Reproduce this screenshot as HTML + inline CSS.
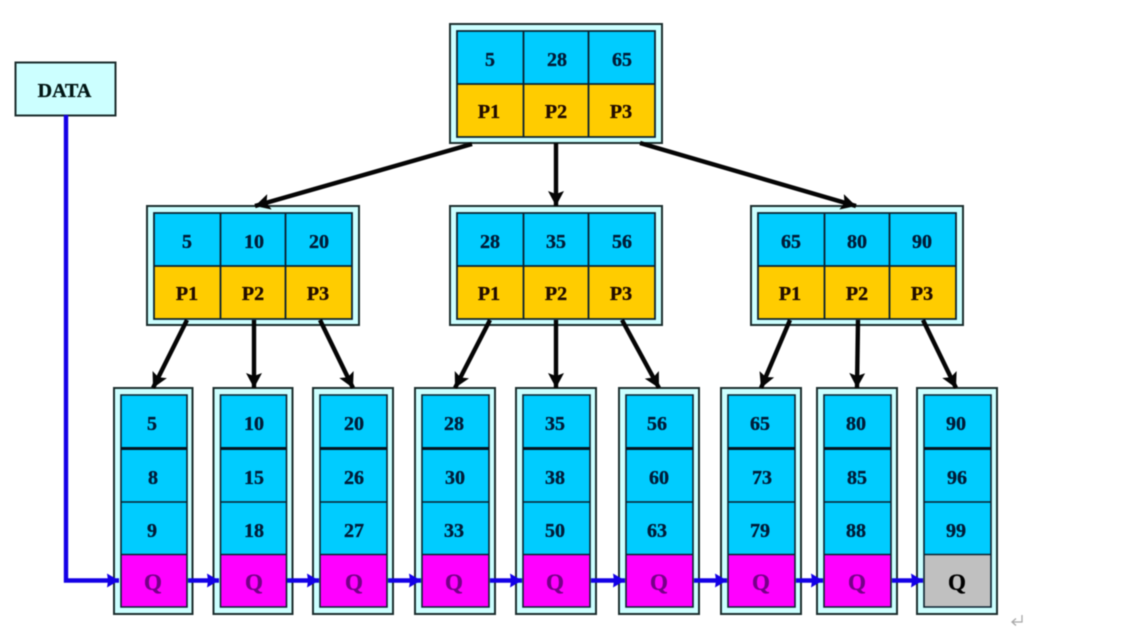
<!DOCTYPE html>
<html lang="en">
<head>
<meta charset="utf-8">
<title>B+ tree diagram</title>
<style>
html,body{margin:0;padding:0;background:#fff;width:1124px;height:630px;overflow:hidden}
svg{display:block}
#d{filter:blur(.45px)}
.o{fill:#ccffff;stroke:#1c2e2e;stroke-width:2}
.i{stroke:#0a2230;stroke-width:1.8}
.b{fill:#00ccff}.y{fill:#ffcc00}.m{fill:#ff00ff}.g{fill:#c0c0c0}
.l{stroke:#0a2230;stroke-width:1.6;fill:none}
.t{stroke:#061420;stroke-width:3;fill:none}
.a{stroke:#050505;stroke-width:4.400;fill:none}
.u{stroke:#1400e6;stroke-width:4.400;fill:none}
text{font-family:"Liberation Serif",serif;font-weight:bold;font-size:20px;text-anchor:middle;stroke-width:.35px}
.tb{fill:#001c38;stroke:#001c38}.ty{fill:#220c00;stroke:#220c00}.tm{fill:#760088;stroke:#760088;font-size:23px}.tg{fill:#000;stroke:#000;font-size:23px}
.td{fill:#021615;stroke:#021615;font-size:20px}
</style>
</head>
<body>
<svg width="1124" height="630" viewBox="0 0 1124 630" xmlns="http://www.w3.org/2000/svg">
<defs>
<marker id="k" markerUnits="userSpaceOnUse" markerWidth="18" markerHeight="18" refX="15" refY="8" orient="auto"><path d="M0 0L15 8L0 16L3 8Z" fill="#050505"/></marker>
<marker id="n" markerUnits="userSpaceOnUse" markerWidth="16" markerHeight="16" refX="12" refY="7" orient="auto"><path d="M0 0L12 7L0 14L1 7Z" fill="#1400e6"/></marker>
</defs>
<g id="d">
<!-- DATA -->
<rect class="o" x="15.500" y="62.500" width="100" height="53"/>
<text class="td" x="64.500" y="97">DATA</text>

<!-- Internal nodes -->
<rect class="o" x="450" y="24" width="212" height="119"/>
<rect class="b" x="457" y="31" width="198" height="53"/><rect class="y" x="457" y="84" width="198" height="53"/>
<rect class="o" x="147" y="206" width="212" height="119"/>
<rect class="b" x="154" y="213" width="198" height="53"/><rect class="y" x="154" y="266" width="198" height="53"/>
<rect class="o" x="450" y="206" width="212" height="119"/>
<rect class="b" x="457" y="213" width="198" height="53"/><rect class="y" x="457" y="266" width="198" height="53"/>
<rect class="o" x="751" y="206" width="212" height="119"/>
<rect class="b" x="758" y="213" width="198" height="53"/><rect class="y" x="758" y="266" width="198" height="53"/>
<path class="i" fill="none" d="M457 31h198v106h-198zM457 84h198M523.500 31v106M588.500 31v106"/>
<path class="i" fill="none" d="M154 213h198v106h-198zM154 266h198M220.500 213v106M285.500 213v106"/>
<path class="i" fill="none" d="M457 213h198v106h-198zM457 266h198M523.500 213v106M588.500 213v106"/>
<path class="i" fill="none" d="M758 213h198v106h-198zM758 266h198M824.500 213v106M889.500 213v106"/>

<text class="tb" x="490" y="66">5</text><text class="tb" x="557" y="66">28</text><text class="tb" x="622" y="66">65</text>
<text class="ty" x="489" y="118">P1</text><text class="ty" x="556" y="118">P2</text><text class="ty" x="621" y="118">P3</text>
<text class="tb" x="187" y="248">5</text><text class="tb" x="254" y="248">10</text><text class="tb" x="319" y="248">20</text>
<text class="ty" x="187" y="300">P1</text><text class="ty" x="253" y="300">P2</text><text class="ty" x="318" y="300">P3</text>
<text class="tb" x="490" y="248">28</text><text class="tb" x="556" y="248">35</text><text class="tb" x="622" y="248">56</text>
<text class="ty" x="489" y="300">P1</text><text class="ty" x="556" y="300">P2</text><text class="ty" x="621" y="300">P3</text>
<text class="tb" x="791" y="248">65</text><text class="tb" x="857" y="248">80</text><text class="tb" x="922" y="248">90</text>
<text class="ty" x="790" y="300">P1</text><text class="ty" x="857" y="300">P2</text><text class="ty" x="922" y="300">P3</text>

<!-- Leaves -->
<rect class="o" x="114" y="388" width="78.500" height="226"/><rect class="b" x="121" y="395" width="66" height="160"/><rect class="m" x="121" y="555" width="66" height="52"/>
<rect class="o" x="213.500" y="388" width="79" height="226"/><rect class="b" x="220.500" y="395" width="66" height="160"/><rect class="m" x="220.500" y="555" width="66" height="52"/>
<rect class="o" x="313" y="388" width="80" height="226"/><rect class="b" x="320" y="395" width="67" height="160"/><rect class="m" x="320" y="555" width="67" height="52"/>
<rect class="o" x="415" y="388" width="80" height="226"/><rect class="b" x="422" y="395" width="67" height="160"/><rect class="m" x="422" y="555" width="67" height="52"/>
<rect class="o" x="516" y="388" width="80" height="226"/><rect class="b" x="523" y="395" width="67" height="160"/><rect class="m" x="523" y="555" width="67" height="52"/>
<rect class="o" x="619" y="388" width="80" height="226"/><rect class="b" x="626" y="395" width="67" height="160"/><rect class="m" x="626" y="555" width="67" height="52"/>
<rect class="o" x="721" y="388" width="80" height="226"/><rect class="b" x="728" y="395" width="67" height="160"/><rect class="m" x="728" y="555" width="67" height="52"/>
<rect class="o" x="817" y="388" width="80" height="226"/><rect class="b" x="824" y="395" width="67" height="160"/><rect class="m" x="824" y="555" width="67" height="52"/>
<rect class="o" x="917" y="388" width="80" height="226"/><rect class="b" x="924" y="395" width="67" height="160"/><rect class="g" x="924" y="555" width="67" height="52"/>

<path class="l" d="M121 395h66v212h-66zM121 502h66M121 554.500h66"/><path class="t" d="M121 448.500h66"/>
<path class="l" d="M220.500 395h66v212h-66zM220.500 502h66M220.500 554.500h66"/><path class="t" d="M220.500 448.500h66"/>
<path class="l" d="M320 395h67v212h-67zM320 502h67M320 554.500h67"/><path class="t" d="M320 448.500h67"/>
<path class="l" d="M422 395h67v212h-67zM422 502h67M422 554.500h67"/><path class="t" d="M422 448.500h67"/>
<path class="l" d="M523 395h67v212h-67zM523 502h67M523 554.500h67"/><path class="t" d="M523 448.500h67"/>
<path class="l" d="M626 395h67v212h-67zM626 502h67M626 554.500h67"/><path class="t" d="M626 448.500h67"/>
<path class="l" d="M728 395h67v212h-67zM728 502h67M728 554.500h67"/><path class="t" d="M728 448.500h67"/>
<path class="l" d="M824 395h67v212h-67zM824 502h67M824 554.500h67"/><path class="t" d="M824 448.500h67"/>
<path class="l" d="M924 395h67v212h-67zM924 502h67M924 554.500h67"/><path class="t" d="M924 448.500h67"/>

<text class="tb" x="152" y="430">5</text><text class="tb" x="153" y="484">8</text><text class="tb" x="152" y="537">9</text><text class="tm" x="153" y="590">Q</text>
<text class="tb" x="254" y="430">10</text><text class="tb" x="254" y="484">15</text><text class="tb" x="254" y="537">18</text><text class="tm" x="254" y="590">Q</text>
<text class="tb" x="354" y="430">20</text><text class="tb" x="354" y="484">26</text><text class="tb" x="354" y="537">27</text><text class="tm" x="354" y="590">Q</text>
<text class="tb" x="454" y="430">28</text><text class="tb" x="455" y="484">30</text><text class="tb" x="454" y="537">33</text><text class="tm" x="454" y="590">Q</text>
<text class="tb" x="555" y="430">35</text><text class="tb" x="555" y="484">38</text><text class="tb" x="555" y="537">50</text><text class="tm" x="555" y="590">Q</text>
<text class="tb" x="657" y="430">56</text><text class="tb" x="659" y="484">60</text><text class="tb" x="657" y="537">63</text><text class="tm" x="659" y="590">Q</text>
<text class="tb" x="760" y="430">65</text><text class="tb" x="762" y="484">73</text><text class="tb" x="760" y="537">79</text><text class="tm" x="761" y="590">Q</text>
<text class="tb" x="856" y="430">80</text><text class="tb" x="857" y="484">85</text><text class="tb" x="856" y="537">88</text><text class="tm" x="857" y="590">Q</text>
<text class="tb" x="956" y="430">90</text><text class="tb" x="957" y="484">96</text><text class="tb" x="956" y="537">99</text><text class="tg" x="957" y="590">Q</text>

<!-- Black connectors -->
<path class="a" marker-end="url(#k)" d="M472 144L255 206"/>
<path class="a" marker-end="url(#k)" d="M556 143V206"/>
<path class="a" marker-end="url(#k)" d="M640 143L856 206"/>
<path class="a" marker-end="url(#k)" d="M187 320L153 388"/>
<path class="a" marker-end="url(#k)" d="M254 320V388"/>
<path class="a" marker-end="url(#k)" d="M320 320L353 388"/>
<path class="a" marker-end="url(#k)" d="M490 320L455 388"/>
<path class="a" marker-end="url(#k)" d="M556 320V388"/>
<path class="a" marker-end="url(#k)" d="M622 320L659 388"/>
<path class="a" marker-end="url(#k)" d="M790 320L761 388"/>
<path class="a" marker-end="url(#k)" d="M858 320L857 388"/>
<path class="a" marker-end="url(#k)" d="M923 320L956 388"/>

<!-- Blue connectors -->
<path class="u" marker-end="url(#n)" d="M66 115V580.500H119"/>
<path class="u" marker-end="url(#n)" d="M188 580.500H219"/>
<path class="u" marker-end="url(#n)" d="M287 580.500H319"/>
<path class="u" marker-end="url(#n)" d="M388 580.500H421"/>
<path class="u" marker-end="url(#n)" d="M490 580.500H522"/>
<path class="u" marker-end="url(#n)" d="M591 580.500H625"/>
<path class="u" marker-end="url(#n)" d="M694 580.500H727"/>
<path class="u" marker-end="url(#n)" d="M796 580.500H823"/>
<path class="u" marker-end="url(#n)" d="M892 580.500H923"/>

<!-- Paragraph mark -->
<path d="M1022 615V622H1013M1016 618.500L1012 622L1016 625.500" fill="none" stroke="#a8a8a8" stroke-width="1.300"/>
</g>
</svg>
</body>
</html>
